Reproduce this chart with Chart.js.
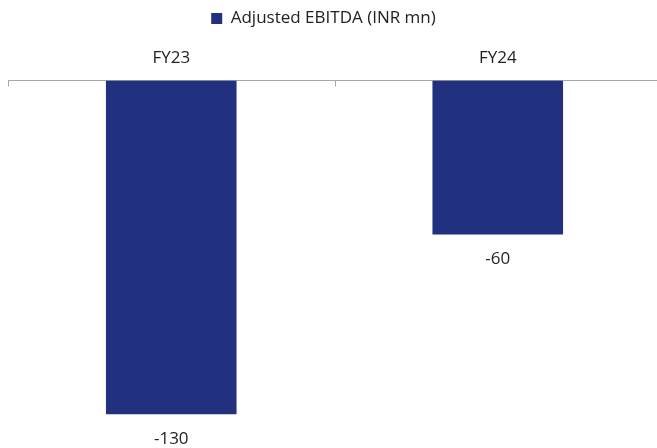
<!DOCTYPE html>
<html>
<head>
<meta charset="utf-8">
<script src="https://cdn.jsdelivr.net/npm/chart.js@4/dist/chart.umd.min.js"></script>
<style>
  html, body { margin: 0; padding: 0; background: #fff; overflow: hidden; }
  #wrap { width: 661px; height: 448px; }
</style>
</head>
<body>
<div id="wrap"><canvas id="myChart"></canvas></div>
<script>
var categories = ['FY23', 'FY24'];
var seriesName = 'Adjusted EBITDA (INR mn)';
var ebitda = [-130, -60];

var FONT = "'Open Sans', 'Noto Sans', sans-serif";

// extra room under the legend, and nudge it a little left
var legendGap = {
	id: 'legendGap',
	beforeLayout: function(chart) {
		var legend = chart.legend;
		if (legend && !legend._gapPatched) {
			var fit = legend.fit;
			legend.fit = function() {
				fit.call(this);
				this.height += 7;
			};
			legend._gapPatched = true;
		}
	},
	afterLayout: function(chart) {
		if (chart.legend) {
			chart.legend.left -= 11;
			chart.legend.right -= 11;
		}
	}
};

// value labels under the end of each bar
var valueLabels = {
	id: 'valueLabels',
	afterDatasetsDraw: function(chart) {
		var ctx = chart.ctx;
		var meta = chart.getDatasetMeta(0);
		ctx.save();
		ctx.font = '17px ' + FONT;
		ctx.fillStyle = '#222';
		ctx.textAlign = 'center';
		ctx.textBaseline = 'middle';
		meta.data.forEach(function(bar, i) {
			ctx.fillText(String(ebitda[i]), bar.x, bar.y + 25);
		});
		ctx.restore();
	}
};

// small tick marks hanging down from the top axis at category boundaries
var axisTicks = {
	id: 'axisTicks',
	afterDraw: function(chart) {
		var ctx = chart.ctx;
		var area = chart.chartArea;
		var n = categories.length;
		var step = (area.right - area.left) / n;
		ctx.save();
		ctx.strokeStyle = '#a6a6a6';
		ctx.lineWidth = 1;
		for (var i = 0; i <= n; i++) {
			var x = Math.round(area.left + i * step) + 0.5;
			ctx.beginPath();
			ctx.moveTo(x, area.top);
			ctx.lineTo(x, area.top + 6);
			ctx.stroke();
		}
		ctx.restore();
	}
};

var ctx = document.getElementById('myChart');
var myChart = new Chart(ctx, {
	type: 'bar',
	data: {
		labels: categories,
		datasets: [{
			label: seriesName,
			data: ebitda,
			backgroundColor: '#213180',
			borderWidth: 0,
			barPercentage: 0.8,
			categoryPercentage: 0.5
		}]
	},
	options: {
		responsive: true,
		maintainAspectRatio: false,
		animation: false,
		layout: { padding: { left: 8, right: 0, top: 0, bottom: 8 } },
		plugins: {
			legend: {
				position: 'top',
				labels: {
					boxWidth: 11,
					boxHeight: 11,
					padding: 10,
					color: '#222',
					font: { family: FONT, size: 17 }
				}
			},
			tooltip: { enabled: false }
		},
		scales: {
			x: {
				position: 'top',
				grid: { display: false },
				border: { display: true, color: '#a6a6a6', width: 1 },
				ticks: {
					color: '#222',
					padding: 4,
					font: { family: FONT, size: 17 }
				}
			},
			y: {
				display: false,
				min: -140,
				max: 0
			}
		}
	},
	plugins: [legendGap, valueLabels, axisTicks]
});
</script>
</body>
</html>
